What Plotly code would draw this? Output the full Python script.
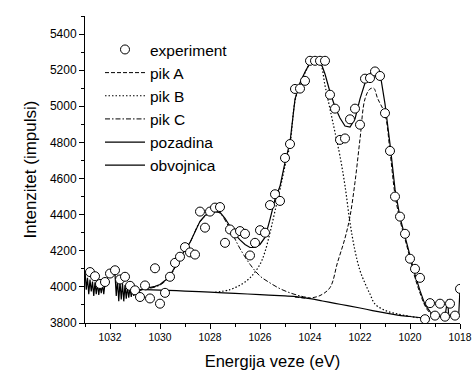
import plotly.graph_objects as go

# ---- experimental points (binding energy eV, intensity) ----
exp_x = [1032.8, 1032.6, 1032.4, 1032.2, 1032.0, 1031.8, 1031.6, 1031.4, 1031.2, 1031.0,
         1030.8, 1030.6, 1030.4, 1030.2, 1030.0, 1029.8, 1029.6, 1029.4, 1029.2, 1029.0,
         1028.8, 1028.6, 1028.4, 1028.2, 1028.0, 1027.8, 1027.6, 1027.4, 1027.2, 1027.0,
         1026.8, 1026.6, 1026.4, 1026.2, 1026.0, 1025.8, 1025.6, 1025.4, 1025.2, 1025.0,
         1024.8, 1024.6, 1024.4, 1024.2, 1024.0, 1023.8, 1023.6, 1023.4, 1023.2, 1023.0,
         1022.8, 1022.6, 1022.4, 1022.2, 1022.0, 1021.8, 1021.6, 1021.4, 1021.2, 1021.0,
         1020.8, 1020.6, 1020.4, 1020.2, 1020.0, 1019.8, 1019.6, 1019.4, 1019.2, 1019.0,
         1018.8, 1018.6, 1018.4, 1018.2, 1018.0]
exp_y = [4082, 4059, 4016, 4027, 4074, 4092, 4041, 4056, 4006, 3981,
         3944, 4008, 3936, 4103, 3907, 3967, 4056, 4133, 4167, 4220,
         4191, 4179, 4417, 4328, 4417, 4439, 4442, 4244, 4318, 4296,
         4309, 4294, 4174, 4244, 4314, 4300, 4453, 4513, 4476, 4714,
         4791, 5096, 5098, 5141, 5252, 5252, 5252, 5252, 5064, 4987,
         4814, 4822, 4928, 4987, 4898, 5153, 5156, 5193, 5168, 4962,
         4753, 4500, 4389, 4294, 4156, 4100, 4050, 3821, 3910, 3841,
         3907, 3835, 3907, 3841, 3989]

# ---- peak A (dashed) ----
pikA_x = [1024.6, 1024.2, 1024.0, 1023.6, 1023.2, 1022.9, 1022.6, 1022.4, 1022.2, 1022.0,
          1021.8, 1021.6, 1021.45, 1021.3, 1021.0, 1020.8, 1020.6, 1020.4, 1020.2, 1020.0,
          1019.8, 1019.6, 1019.4, 1019.2, 1019.0, 1018.8]
pikA_y = [3944, 3938, 3938, 3952, 3996, 4135, 4270, 4390, 4580, 4818,
          5041, 5096, 5100, 5045, 4955, 4750, 4510, 4370, 4265, 4160,
          4050, 3966, 3895, 3855, 3838, 3832]

# ---- peak B (dotted) ----
pikB_x = [1027.8, 1027.2, 1026.8, 1026.4, 1026.0, 1025.8, 1025.6, 1025.4, 1025.2, 1025.0,
          1024.8, 1024.6, 1024.4, 1024.2, 1024.0, 1023.8, 1023.6, 1023.4, 1023.2, 1023.0,
          1022.8, 1022.6, 1022.4, 1022.2, 1022.0, 1021.8, 1021.6, 1021.4, 1021.0, 1020.5,
          1020.0, 1019.6]
pikB_y = [3970, 3985, 4010, 4050, 4125, 4195, 4300, 4420, 4540, 4670,
          4790, 5030, 5120, 5185, 5235, 5250, 5240, 5115, 4985, 4856,
          4724, 4560, 4356, 4200, 4090, 4020, 3960, 3905, 3870, 3850,
          3837, 3828]

# ---- peak C (dash-dot) ----
pikC_x = [1030.8, 1030.6, 1030.0, 1029.6, 1029.2, 1028.8, 1028.4, 1028.0, 1027.8, 1027.6,
          1027.2, 1027.0, 1026.8, 1026.4, 1026.0, 1025.6, 1025.2, 1024.8, 1024.4, 1024.0]
pikC_y = [3985, 3987, 4010, 4060, 4160, 4245, 4360, 4410, 4415, 4408,
          4320, 4265, 4212, 4125, 4060, 4022, 3990, 3967, 3950, 3938]

# ---- background (pozadina) ----
poz_x = [1030.6, 1030.0, 1029.0, 1028.0, 1027.0, 1026.0, 1025.0, 1024.5, 1024.0, 1023.5,
         1023.0, 1022.5, 1022.0, 1021.5, 1021.0, 1020.5, 1020.0, 1019.5, 1019.2]
poz_y = [3985, 3982, 3977, 3971, 3964, 3957, 3950, 3945, 3935, 3922,
         3909, 3896, 3883, 3869, 3856, 3844, 3836, 3828, 3826]

# ---- envelope (obvojnica) ----
obv_x = [1033.0, 1032.95, 1032.9, 1032.85, 1032.8, 1032.75, 1032.7, 1032.65, 1032.6, 1032.55,
         1032.5, 1032.45, 1032.4, 1032.35, 1032.3, 1032.25, 1032.2, 1032.1, 1032.0, 1031.9,
         1031.8, 1031.75, 1031.7, 1031.65, 1031.6, 1031.55, 1031.5, 1031.45, 1031.4, 1031.35,
         1031.3, 1031.25, 1031.2, 1031.15, 1031.1, 1031.05, 1031.0, 1030.9, 1030.8,
         1030.6, 1030.4, 1030.2, 1030.0, 1029.8, 1029.6, 1029.4, 1029.2, 1029.0,
         1028.8, 1028.6, 1028.4, 1028.2, 1028.0, 1027.8, 1027.6, 1027.4, 1027.2, 1027.0,
         1026.8, 1026.6, 1026.4, 1026.2, 1026.0, 1025.8, 1025.6, 1025.4, 1025.2, 1025.0,
         1024.8, 1024.6, 1024.4, 1024.2, 1024.0, 1023.8, 1023.6, 1023.4, 1023.2, 1023.0,
         1022.8, 1022.6, 1022.4, 1022.2, 1022.0, 1021.8, 1021.6, 1021.4, 1021.2, 1021.0,
         1020.8, 1020.6, 1020.4, 1020.2, 1020.0, 1019.8, 1019.6, 1019.4, 1019.2, 1019.0,
         1018.8, 1018.6, 1018.5, 1018.45, 1018.2, 1018.05, 1018.0]
obv_y = [4090, 3985, 4050, 3960, 4040, 3975, 4030, 3950, 4025, 3960,
         4020, 3955, 4010, 3965, 4015, 3960, 4020, 4050, 4075, 4085,
         4070, 3950, 4040, 3920, 4030, 3930, 4020, 3920, 4010, 3935,
         4000, 3940, 3995, 3945, 3990, 3950, 3985, 3960, 3980,
         3990, 3995, 4003, 4013, 4035, 4063, 4110, 4163, 4205,
         4246, 4305, 4363, 4395, 4413, 4418, 4413, 4380, 4335, 4291,
         4260, 4235, 4218, 4218, 4235, 4274, 4374, 4485, 4557, 4690,
         4800, 5040, 5130, 5190, 5240, 5262, 5255, 5179, 5079, 4996,
         4935, 4891, 4885, 4930, 5041, 5129, 5179, 5207, 5185, 5013,
         4791, 4541, 4385, 4279, 4179, 4068, 3979, 3902, 3863, 3841,
         3837, 3835, 3930, 3840, 3850, 3850, 3989]

x_ticks = [1032, 1030, 1028, 1026, 1024, 1022, 1020, 1018]
y_ticks = [3800, 4000, 4200, 4400, 4600, 4800, 5000, 5200, 5400]

FONT = "Arial, Liberation Sans, sans-serif"
BLACK = "black"

fig = go.Figure()
fig.add_trace(go.Scatter(x=pikA_x, y=pikA_y, mode="lines", name="pik A", legendrank=2,
                         line=dict(color=BLACK, width=1, dash="4px,2px", shape="spline")))
fig.add_trace(go.Scatter(x=pikB_x, y=pikB_y, mode="lines", name="pik B", legendrank=3,
                         line=dict(color=BLACK, width=1.2, dash="1.5px,2px", shape="spline")))
fig.add_trace(go.Scatter(x=pikC_x, y=pikC_y, mode="lines", name="pik C", legendrank=4,
                         line=dict(color=BLACK, width=1, dash="5px,2px,1.5px,2px", shape="spline")))
fig.add_trace(go.Scatter(x=poz_x, y=poz_y, mode="lines", name="pozadina", legendrank=5,
                         line=dict(color=BLACK, width=1.2, shape="spline")))
fig.add_trace(go.Scatter(x=obv_x, y=obv_y, mode="lines", name="obvojnica", legendrank=6,
                         line=dict(color=BLACK, width=1.2)))
fig.add_trace(go.Scatter(x=exp_x, y=exp_y, mode="markers", name="experiment", legendrank=1,
                         marker=dict(symbol="circle", size=9, color="white",
                                     line=dict(color=BLACK, width=1))))

axis_common = dict(showline=True, linecolor=BLACK, linewidth=1, showgrid=False, zeroline=False,
                   ticks="outside", ticklen=5, tickwidth=1, tickcolor=BLACK, mirror=False,
                   automargin=False, ticklabeloverflow="allow")

fig.update_layout(
    width=472, height=371,
    margin=dict(l=85, r=12, t=16, b=48),
    paper_bgcolor="white", plot_bgcolor="white",
    font=dict(family=FONT, color=BLACK),
    showlegend=True,
    legend=dict(x=0.04, y=0.945, xanchor="left", yanchor="top", bgcolor="rgba(0,0,0,0)",
                font=dict(size=15.5, family=FONT), itemwidth=40, tracegroupgap=0),
    xaxis=dict(range=[1033, 1018], tickvals=x_ticks, ticktext=[str(v) for v in x_ticks],
               tickfont=dict(size=10.3), minor=dict(dtick=1, ticklen=3, tickcolor=BLACK, ticks="outside"),
               title=dict(text="Energija veze (eV)", font=dict(size=16.5), standoff=13),
               **axis_common),
    yaxis=dict(range=[3800, 5500], tickvals=y_ticks, ticktext=[str(v) for v in y_ticks],
               tickfont=dict(size=12), minor=dict(dtick=100, ticklen=3, tickcolor=BLACK, ticks="outside"),
               title=dict(text="Intenzitet (impulsi)", font=dict(size=17), standoff=8),
               **axis_common),
)

# remove the default 8px page margin so the 472x371 figure fills the window exactly
fig.write_html("out.html",
               config={"displayModeBar": False, "staticPlot": True},
               post_script="document.body.style.margin='0px';document.body.style.overflow='hidden';")
